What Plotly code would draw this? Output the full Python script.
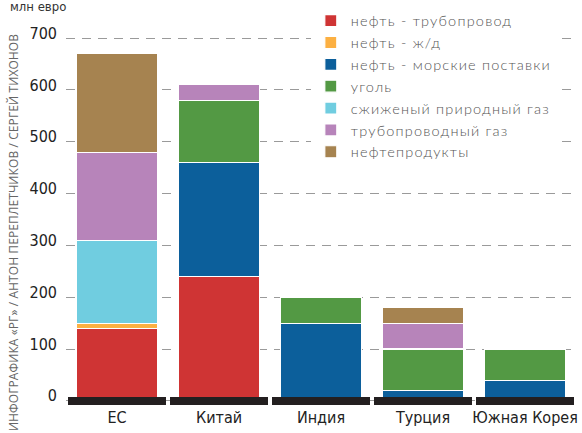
import plotly.graph_objects as go

categories = ["ЕС", "Китай", "Индия", "Турция", "Южная Корея"]
series_names = ["нефть - трубопровод", "нефть - ж/д", "нефть - морские поставки",
                "уголь", "сжиженый природный газ", "трубопроводный газ", "нефтепродукты"]
oil_pipeline = [140, 240, 0, 0, 0]
oil_rail = [10, 0, 0, 0, 0]
oil_sea = [0, 220, 150, 20, 40]
coal = [0, 120, 50, 80, 60]
lng = [160, 0, 0, 0, 0]
pipeline_gas = [170, 30, 0, 50, 0]
oil_products = [190, 0, 0, 30, 0]
y_ticks = [0, 100, 200, 300, 400, 500, 600, 700]

colors = ["#cf3434", "#fcb042", "#0c5f9b", "#539944", "#70cde0", "#b784ba", "#a68350"]
values = [oil_pipeline, oil_rail, oil_sea, coal, lng, pipeline_gas, oil_products]

COND = "DejaVu Sans, sans-serif"


def narrow(s):
    return '<span style="font-stretch:condensed">' + str(s) + '</span>'


def spaced(s, px):
    return '<span style="letter-spacing:%spx">' % px + s + '</span>'


fig = go.Figure()
for name, vals, col in zip(series_names, values, colors):
    fig.add_trace(go.Bar(
        x=categories, y=vals, name=spaced(name, 1.2), width=0.79,
        marker=dict(color=col, line=dict(color="white", width=1.2)),
    ))

# black base band under each category
fig.add_trace(go.Bar(
    x=categories, y=[16] * len(categories), base=[-8] * len(categories),
    width=0.96, xaxis="x2", marker=dict(color="#231f20", line=dict(width=0)),
    showlegend=False, hoverinfo="skip",
))

fig.update_layout(
    width=582, height=433,
    margin=dict(l=66, r=6, t=19, b=28),
    barmode="stack",
    plot_bgcolor="white", paper_bgcolor="white",
    xaxis=dict(range=[-0.5, 4.5], showgrid=False, zeroline=False, showline=False,
               ticks="", tickfont=dict(family=COND, size=16, color="#222"),
               tickvals=categories, ticktext=[narrow(c) for c in categories],
               tickangle=0, automargin=False, ticklabelstandoff=1),
    xaxis2=dict(range=[-0.5, 4.5], overlaying="x", visible=False),
    yaxis=dict(range=[-8, 735], tickvals=y_ticks, ticktext=[narrow(t) for t in y_ticks],
               showgrid=True, gridcolor="#9a9a9a", automargin=False,
               gridwidth=1.3, griddash="9px,7px", zeroline=False, showline=False, ticks="",
               tickfont=dict(family=COND, size=16, color="#222"),
               ticklabelstandoff=8, ticklabelshift=-5),
    legend=dict(x=0.48, y=1.037, xanchor="left", yanchor="top", bgcolor="white",
                traceorder="normal", font=dict(family="Lato, Open Sans, sans-serif",
                                               size=14.5, color="#555", weight=300),
                tracegroupgap=0, itemwidth=30),
    showlegend=True,
)

fig.add_annotation(text=narrow("млн евро"), xref="paper", yref="paper", x=-0.055, y=1.034,
                   xanchor="center", yanchor="middle", showarrow=False,
                   font=dict(family=COND, size=13, color="#333"))
fig.add_annotation(text=spaced("ИНФОГРАФИКА «РГ» / АНТОН ПЕРЕПЛЕТЧИКОВ / СЕРГЕЙ ТИХОНОВ", 0.1),
                   xref="paper", yref="paper", x=-0.104, y=0.449, textangle=-90,
                   xanchor="center", yanchor="middle", showarrow=False,
                   font=dict(family="Open Sans, sans-serif", size=12, color="#666"))

fig.write_html("out.html", config={"displayModeBar": False},
               post_script="document.body.style.margin='0';document.body.style.padding='0';")
